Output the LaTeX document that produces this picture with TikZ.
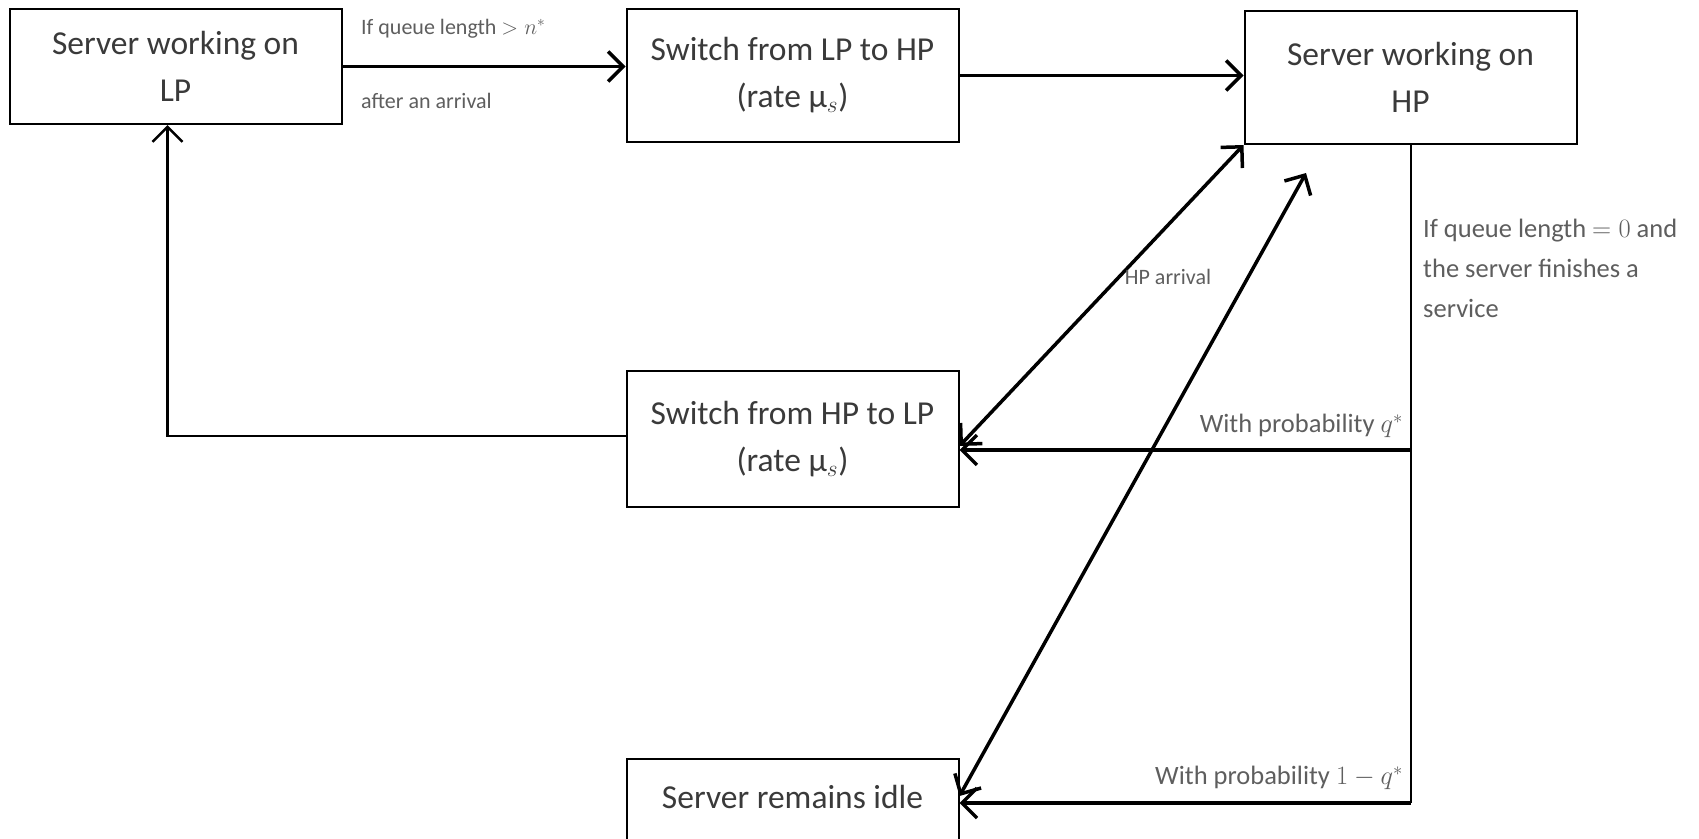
\RequirePackage{fix-cm}
\documentclass[tikz,border=0pt]{standalone}
\usepackage{fontspec}
\setmainfont{Carlito}
\usepackage{tikz}
\usetikzlibrary{arrows.meta,positioning,calc}
\definecolor{ink}{HTML}{000000}
\definecolor{boxink}{HTML}{3A3A3A}
\definecolor{noteink}{HTML}{5E5E5E}
\tikzset{
  state diagram/.style={
    x=1pt, y=-1pt,
    >={Straight Barb[length=15pt,width=30pt]},
    line join=miter
  },
  statebox/.style={
    draw=ink,
    line width=2pt,
    align=center,
    text=boxink,
    font=\fontsize{33.5}{47}\selectfont,
    minimum width=332pt,
    minimum height=133pt,
    inner sep=0pt
  },
  notelabel/.style={
    text=noteink,
    font=\fontsize{22}{40}\selectfont,
    align=left,
    inner sep=0pt
  },
  sidelabel/.style={notelabel, font=\fontsize{26.5}{40}\selectfont},
  flowarrow/.style={->, draw=ink, line width=3.5pt},
  twowayarrow/.style={<->, draw=ink, line width=3.5pt},
  backarrow/.style={->, draw=ink, line width=2.5pt},
  tapline/.style={draw=ink, line width=2pt}
}

\begin{document}
\begin{tikzpicture}[state diagram]
\useasboundingbox (0,0) rectangle (1699,838);
% states
\node[statebox, minimum height=115pt] (lpwork) at (175.5,66.5) {Server working on\\LP};
\node[statebox, right=283pt of lpwork.north east, anchor=north west] (lptohp) {Switch from LP to HP\\(rate μ$_{s}$)};
\node[statebox, right=284pt of lptohp.north east, anchor=north west, yshift=-2pt] (hpwork) {Server working on\\HP};
\node[statebox, below=227pt of lptohp, minimum height=136pt] (hptolp) {Switch from HP to LP\\(rate μ$_{s}$)};
\node[statebox, below=250pt of hptolp, minimum height=136pt] (idle) {Server remains idle\\\strut};
% branch points
\coordinate (lpback) at ($(lpwork.south)+(-8,0)$);
\coordinate (tapq) at (hpwork.south |- 0,450);
\coordinate (tapidle) at (hpwork.south |- 0,803);
\coordinate (hpfoot) at (1306,173);
\coordinate (idlein) at (idle.east |- 0,796);
% connectors
\draw[flowarrow] (lpwork.east) -- (lpwork.east -| lptohp.west);
\draw[flowarrow] (lptohp.east) -- (lptohp.east -| hpwork.west);
\draw[backarrow] ($(hptolp.west)+(0,-3)$) -| (lpback);
\draw[tapline] (hpwork.south) -- (tapidle);
\draw[flowarrow] (tapq) -- (tapq -| hptolp.east);
\draw[flowarrow] (tapidle) -- (tapidle -| idle.east);
\draw[twowayarrow] (hpwork.south west) -- ($(hptolp.east)+(0,7)$);
\draw[twowayarrow] (hpfoot) -- (idlein);
% labels
\node[notelabel, anchor=west] (condup) at (361,29) {If queue length $>n^{*}$};
\node[notelabel, anchor=west] (condarr) at (361,101) {after an arrival};
\node[notelabel] (hparr) at (1168,277) {HP arrival};
\node[sidelabel, anchor=west] (condidle) at (1423,268) {If queue length $=0$ and\\the server finishes a\\service};
\node[sidelabel, anchor=east] (probq) at (1403,426) {With probability $q^{*}$};
\node[sidelabel, anchor=east] (probidle) at (1403,778) {With probability $1-q^{*}$};
\end{tikzpicture}
\end{document}
